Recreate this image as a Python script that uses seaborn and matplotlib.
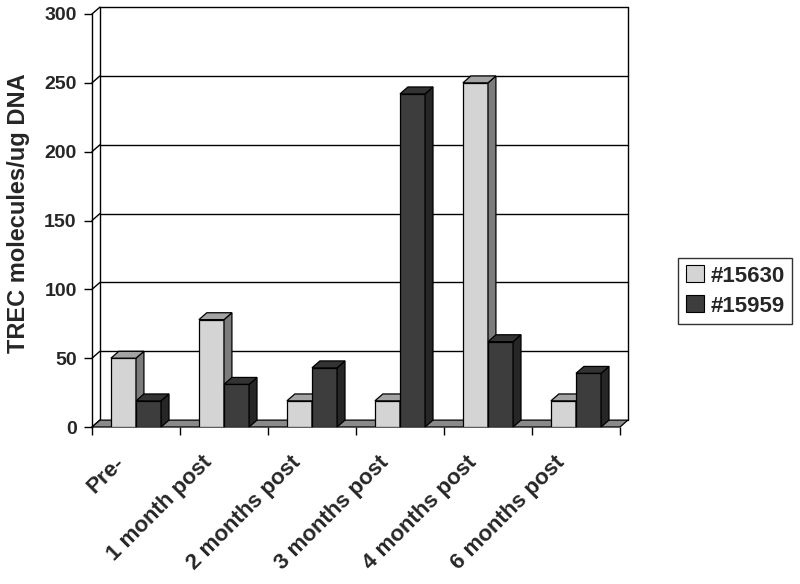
"""TREC levels per animal across timepoints, Excel-style 3D clustered columns."""

import matplotlib
matplotlib.use("Agg")
import matplotlib.pyplot as plt
import matplotlib.transforms as mtransforms
import pandas as pd
import seaborn as sns
from matplotlib.patches import Patch, Polygon
from matplotlib.ticker import FixedLocator

# Data
timepoints = ["Pre-", "1 month post", "2 months post", "3 months post",
              "4 months post", "6 months post"]
animals = ["#15630", "#15959"]
trec_15630 = [50, 78, 19, 19, 250, 19]
trec_15959 = [19, 31, 43, 242, 62, 39]
y_ticks = [0, 50, 100, 150, 200, 250, 300]

# front / side / top shades for each series
FACE = ["#d4d4d4", "#3d3d3d"]
SIDE = ["#7c7c7c", "#262626"]
TOP = ["#a3a3a3", "#333333"]

DX, DY = 0.09, 5.0  # depth offset (category units, value units)

sns.set_style("white")
plt.rcParams["font.family"] = ["Liberation Sans", "DejaVu Sans"]
plt.rcParams["font.weight"] = "bold"

df = pd.DataFrame({
    "timepoint": timepoints * 2,
    "animal": [animals[0]] * len(timepoints) + [animals[1]] * len(timepoints),
    "trec": trec_15630 + trec_15959,
})

fig = plt.figure(figsize=(8, 5.84), dpi=100)
ax = fig.add_axes([92 / 800, 1 - 427 / 584, 528 / 800, 413 / 584])

sns.barplot(data=df, x="timepoint", y="trec", hue="animal", palette=FACE,
            width=0.57, saturation=1, edgecolor="black", linewidth=0.9,
            legend=False, ax=ax)

xmin, xmax = -0.5, len(timepoints) - 0.5
ax.set_xlim(xmin, xmax)
ax.set_ylim(0, 300)

# 3D faces for every bar, built from the bar patches
for i, container in enumerate(ax.containers):
    for bar in container:
        bar.set_zorder(3 + i)
        x0 = bar.get_x()
        x1 = x0 + bar.get_width()
        h = bar.get_height()
        side = Polygon([(x1, 0), (x1 + DX, DY), (x1 + DX, h + DY), (x1, h)],
                       closed=True, facecolor=SIDE[i], edgecolor="black",
                       linewidth=0.9, zorder=3 + i + 0.1, clip_on=False)
        top = Polygon([(x0, h), (x1, h), (x1 + DX, h + DY), (x0 + DX, h + DY)],
                      closed=True, facecolor=TOP[i], edgecolor="black",
                      linewidth=0.9, zorder=3 + i + 0.1, clip_on=False)
        ax.add_patch(side)
        ax.add_patch(top)

# floor
floor = Polygon([(xmin, 0), (xmax, 0), (xmax + DX, DY), (xmin + DX, DY)],
                closed=True, facecolor="#8a8a8a", edgecolor="black",
                linewidth=0.9, zorder=1.5, clip_on=False)
ax.add_patch(floor)

# back wall gridlines, wall edges and left-wall diagonals
line_kw = dict(color="black", linewidth=1.0, clip_on=False, zorder=1)
for v in y_ticks[1:]:
    ax.plot([xmin + DX, xmax + DX], [v + DY, v + DY], **line_kw)
for v in y_ticks:
    ax.plot([xmin, xmin + DX], [v, v + DY], **line_kw)
ax.plot([xmin + DX, xmin + DX], [DY, 300 + DY], **line_kw)
ax.plot([xmax + DX, xmax + DX], [DY, 300 + DY], **line_kw)

for name in ["top", "right", "bottom"]:
    ax.spines[name].set_visible(False)
ax.spines["left"].set_color("black")
ax.spines["left"].set_linewidth(1.0)
ax.spines["left"].set_zorder(2)

ax.set_yticks(y_ticks)
ax.tick_params(axis="y", left=True, length=6, width=1, color="black",
               labelsize=14, pad=5)
ax.xaxis.set_minor_locator(FixedLocator([k - 0.5 for k in range(len(timepoints) + 1)]))
ax.tick_params(axis="x", which="major", length=0, labelsize=16, pad=18)
ax.tick_params(axis="x", which="minor", bottom=True, length=6, width=1,
               color="black")
shift = mtransforms.ScaledTranslation(-0.22, 0, fig.dpi_scale_trans)
for lab in ax.get_xticklabels():
    lab.set_rotation(45)
    lab.set_ha("right")
    lab.set_rotation_mode("anchor")
    lab.set_fontweight("bold")
    lab.set_transform(lab.get_transform() + shift)
plt.setp(ax.get_yticklabels(), fontweight="bold")

ax.set_xlabel("")
ax.set_ylabel("TREC molecules/ug DNA", fontsize=17, fontweight="bold",
              labelpad=10)
ax.yaxis.label.set_y(0.517)
ax.grid(False)

handles = [Patch(facecolor=FACE[i], edgecolor="black", linewidth=0.8)
           for i in range(len(animals))]
leg = fig.legend(handles, animals, loc="center left",
                 bbox_to_anchor=(678 / 800, 1 - 291 / 584), frameon=True,
                 fancybox=False, edgecolor="black", handlelength=0.8,
                 handleheight=0.8, handletextpad=0.3, borderpad=0.35,
                 borderaxespad=0, labelspacing=0.4,
                 prop={"size": 16, "weight": "bold"})
leg.get_frame().set_linewidth(1.0)

fig.savefig("out.png", dpi=100)
plt.close(fig)
